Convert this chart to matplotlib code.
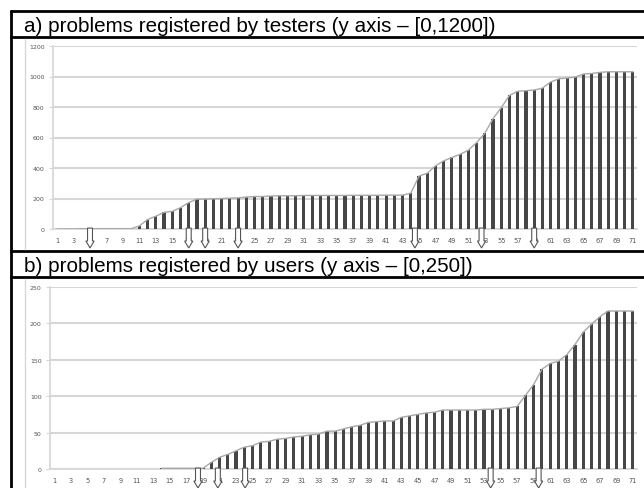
import numpy as np
import matplotlib
matplotlib.use("Agg")
import matplotlib.pyplot as plt
from matplotlib.patches import Polygon
from matplotlib.transforms import blended_transform_factory

# data
days = list(range(1, 72))
testers = [0, 0, 0, 2, 2, 2, 2, 2, 2, 2,
           20, 62, 84, 109, 116, 140, 173, 196, 196, 198,
           200, 202, 204, 209, 213, 213, 216, 218, 218, 218,
           220, 220, 220, 220, 220, 220, 221, 221, 221, 221,
           222, 222, 222, 235, 347, 366, 414, 447, 469, 490,
           517, 567, 628, 724, 796, 876, 903, 907, 911, 924,
           964, 985, 990, 996, 1016, 1020, 1027, 1031, 1031, 1031, 1031]
users = [None] * 13 + [1, 1, 1, 1, 1, 1,
         9, 16, 20, 25, 30, 32, 37, 38, 41, 42, 44, 45, 47, 48,
         52, 52, 55, 58, 60, 64, 65, 66, 66, 71, 73, 75, 77, 78,
         81, 81, 81, 81, 81, 82, 82, 83, 84, 86, 101, 116, 137, 145,
         148, 157, 171, 188, 199, 209, 217, 217, 217, 217]
arrows_a = [5, 17, 19, 23, 44.5, 52.6, 59]
arrows_b = [18.4, 20.8, 24.1, 53.8, 59.6]
title_a = "a) problems registered by testers (y axis \u2013 [0,1200])"
title_b = "b) problems registered by users (y axis \u2013 [0,250])"

W, H = 644, 489
fig = plt.figure(figsize=(W / 100, H / 100), dpi=100)


def rect(l, t, r, b):
    return [l / W, 1 - b / H, (r - l) / W, (b - t) / H]


# table frame and headers
bg = fig.add_axes([0, 0, 1, 1], zorder=-1)
bg.set_xlim(0, W)
bg.set_ylim(H, 0)
bg.axis("off")
for y in (12, 38, 252, 278):
    bg.plot([10, W], [y, y], color="black", lw=2, solid_capstyle="butt")
bg.plot([11, 11], [11, H], color="black", lw=2, solid_capstyle="butt")
bg.plot([25, 25], [40, 250], color="#d8d8d8", lw=1)
bg.plot([25, 25], [280, H], color="#d8d8d8", lw=1)
bg.text(24, 26, title_a, fontsize=14.9, family="Liberation Sans", va="center")
bg.text(24, 266, title_b, fontsize=14.9, family="Liberation Sans", va="center")


def panel(box, vals, ymax, step, arrows):
    ax = fig.add_axes(rect(*box))
    x = np.array(days)
    v = np.array([np.nan if a is None else a for a in vals], dtype=float)
    ax.bar(x, np.nan_to_num(v), width=0.38, color="#464646", zorder=3)
    ax.plot(x, v, color="#a8a8a8", lw=1, zorder=4)
    ax.set_xlim(0.5, 71.5)
    ax.set_ylim(0, ymax)
    ax.set_yticks(np.arange(0, ymax + 1, step))
    ax.set_xticks(x[::2])
    ax.yaxis.grid(True, color="#d6d6d6", lw=1.5, zorder=0)
    ax.set_axisbelow(True)
    for s in ("top", "right"):
        ax.spines[s].set_visible(False)
    for s in ("left", "bottom"):
        ax.spines[s].set_color("#d6d6d6")
        ax.spines[s].set_linewidth(1.2)
    ax.tick_params(axis="y", labelsize=4.5, labelcolor="#555555",
                   color="#d6d6d6", length=3, pad=3)
    ax.tick_params(axis="x", labelsize=4.8, labelcolor="#555555",
                   length=0, pad=6)
    # hollow block arrows below the axis
    hpx = box[3] - box[1]
    tr = blended_transform_factory(ax.transData, ax.transAxes)
    for a in arrows:
        s1, s2 = -12 / hpx, -19 / hpx
        pts = [(a - 0.3, 0.005), (a + 0.3, 0.005), (a + 0.3, s1), (a + 0.5, s1),
               (a, s2), (a - 0.5, s1), (a - 0.3, s1)]
        ax.add_patch(Polygon(pts, closed=True, transform=tr, facecolor="white",
                             edgecolor="#555555", lw=0.8, clip_on=False, zorder=6))
    return ax


panel((53, 47, 637, 230), testers, 1200, 200, arrows_a)
panel((50, 288, 637, 470), users, 250, 50, arrows_b)

fig.savefig("out.png", dpi=100)
